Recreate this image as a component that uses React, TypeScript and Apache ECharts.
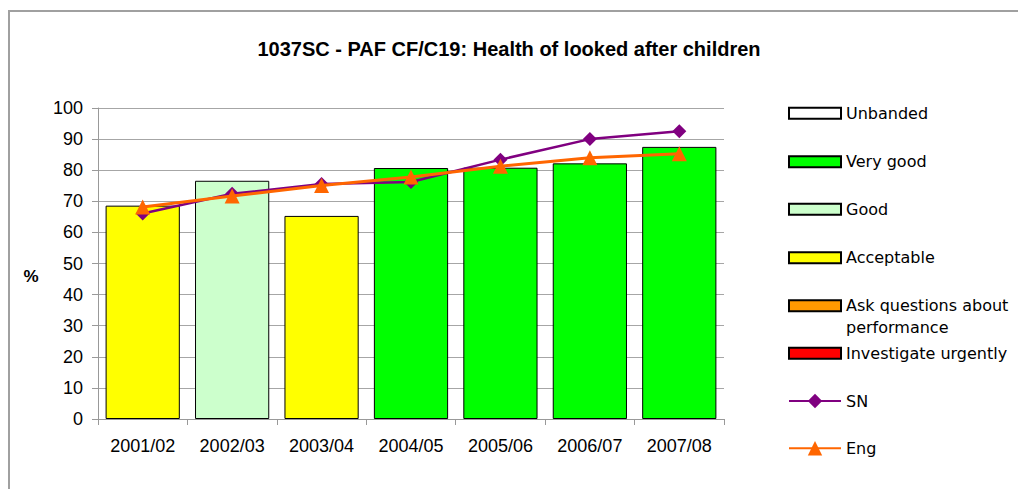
import React, { useEffect, useRef } from "react";
import * as echarts from "echarts";

const categories = ["2001/02", "2002/03", "2003/04", "2004/05", "2005/06", "2006/07", "2007/08"];
const barValues = [68.6, 76.6, 65.3, 80.7, 80.8, 82.2, 87.5];
const barBands = ["Acceptable", "Good", "Acceptable", "Very good", "Very good", "Very good", "Very good"];
const snValues = [66.1, 72.4, 75.6, 76.2, 83.4, 90.0, 92.5];
const engValues = [68.2, 71.7, 75.1, 77.8, 81.3, 84.0, 85.3];
const bandNames = ["Unbanded", "Very good", "Good", "Acceptable", "Ask questions about performance", "Investigate urgently"];
const bandColors = ["#FFFFFF", "#00FF00", "#CCFFCC", "#FFFF00", "#FF9900", "#FF0000"];
const yTicks = [0, 10, 20, 30, 40, 50, 60, 70, 80, 90, 100];
const yAxisTitle = "%";

const legendCenters = [113.3, 161.7, 209.3, 257.7, 305.7, 353.3, 401, 448.3];

export default function App() {
  const ref = useRef<HTMLDivElement>(null);
  useEffect(() => {
    if (!ref.current) return;
    const chart = echarts.init(ref.current, null, { renderer: "svg" });
    const axisFont = "'Liberation Sans', Arial, sans-serif";
    const legendFont = "'DejaVu Sans', Verdana, sans-serif";

    const barSeries = bandNames.map((name, i) => ({
      name,
      type: "bar",
      stack: "band",
      barWidth: "83%",
      itemStyle: { color: bandColors[i], borderColor: "#000", borderWidth: 1 },
      data: barValues.map((v, j) => (barBands[j] === name ? v : null)),
    }));

    const allNames = [...bandNames, "SN", "Eng"];
    const legends = allNames.map((name, i) => {
      const isTwo = name === "Ask questions about performance";
      const isLine = name === "SN" || name === "Eng";
      const ih = isLine ? 18 : 11;
      return {
        orient: "vertical",
        left: 788,
        top: isTwo ? legendCenters[i] - 33 : legendCenters[i] - 11,
        padding: 0,
        itemWidth: 52,
        itemHeight: ih,
        itemGap: 0,
        icon: isLine ? undefined : "rect",
        selectedMode: false,
        data: [name],
        formatter: isTwo ? () => "\nAsk questions about\nperformance" : undefined,
        textStyle: {
          fontFamily: legendFont,
          fontSize: 16,
          color: "#000",
          lineHeight: 22,
        },
      };
    });

    chart.setOption({
      animation: false,
      backgroundColor: "#fff",
      title: {
        text: "1037SC - PAF CF/C19: Health of looked after children",
        left: "center",
        top: 39,
        padding: 0,
        textStyle: { fontFamily: axisFont, fontSize: 20, fontWeight: "bold", color: "#000" },
      },
      graphic: [
        {
          type: "rect",
          shape: { x: 9, y: 11, width: 1100, height: 600 },
          style: { fill: "none", stroke: "#a0a0a0", lineWidth: 2 },
          silent: true,
        },
        {
          type: "text",
          x: 31,
          y: 276,
          style: {
            text: yAxisTitle,
            align: "center",
            verticalAlign: "middle",
            font: "bold 17px 'Liberation Sans', Arial, sans-serif",
            fill: "#000",
          },
        },
      ],
      legend: legends,
      grid: { left: 98, right: 294, top: 108, bottom: 70 },
      xAxis: {
        type: "category",
        data: categories,
        axisLine: { lineStyle: { color: "#999", width: 1 } },
        axisTick: { show: true, length: 6, lineStyle: { color: "#999" } },
        axisLabel: { fontFamily: axisFont, fontSize: 18, color: "#000", margin: 18 },
      },
      yAxis: {
        type: "value",
        min: 0,
        max: 100,
        interval: 10,
        axisLine: { show: true, lineStyle: { color: "#999", width: 1 } },
        axisTick: { show: true, length: 6, lineStyle: { color: "#999" } },
        axisLabel: {
          fontFamily: axisFont,
          fontSize: 18,
          color: "#000",
          margin: 15,
          formatter: (v: number) => (yTicks.includes(v) ? String(v) : ""),
        },
        splitLine: { show: true, lineStyle: { color: "#a6a6a6", width: 1 } },
      },
      series: [
        ...barSeries,
        {
          name: "SN",
          type: "line",
          data: snValues,
          symbol: "diamond",
          symbolSize: 14,
          lineStyle: { color: "#800080", width: 2.5 },
          itemStyle: { color: "#800080" },
          z: 3,
        },
        {
          name: "Eng",
          type: "line",
          data: engValues,
          symbol: "triangle",
          symbolSize: 15,
          lineStyle: { color: "#FF6600", width: 3 },
          itemStyle: { color: "#FF6600" },
          z: 4,
        },
      ],
    });
    return () => chart.dispose();
  }, []);
  return (
    <div
      ref={ref}
      style={{ position: "fixed", left: 0, top: 0, width: 1018, height: 489 }}
    />
  );
}
